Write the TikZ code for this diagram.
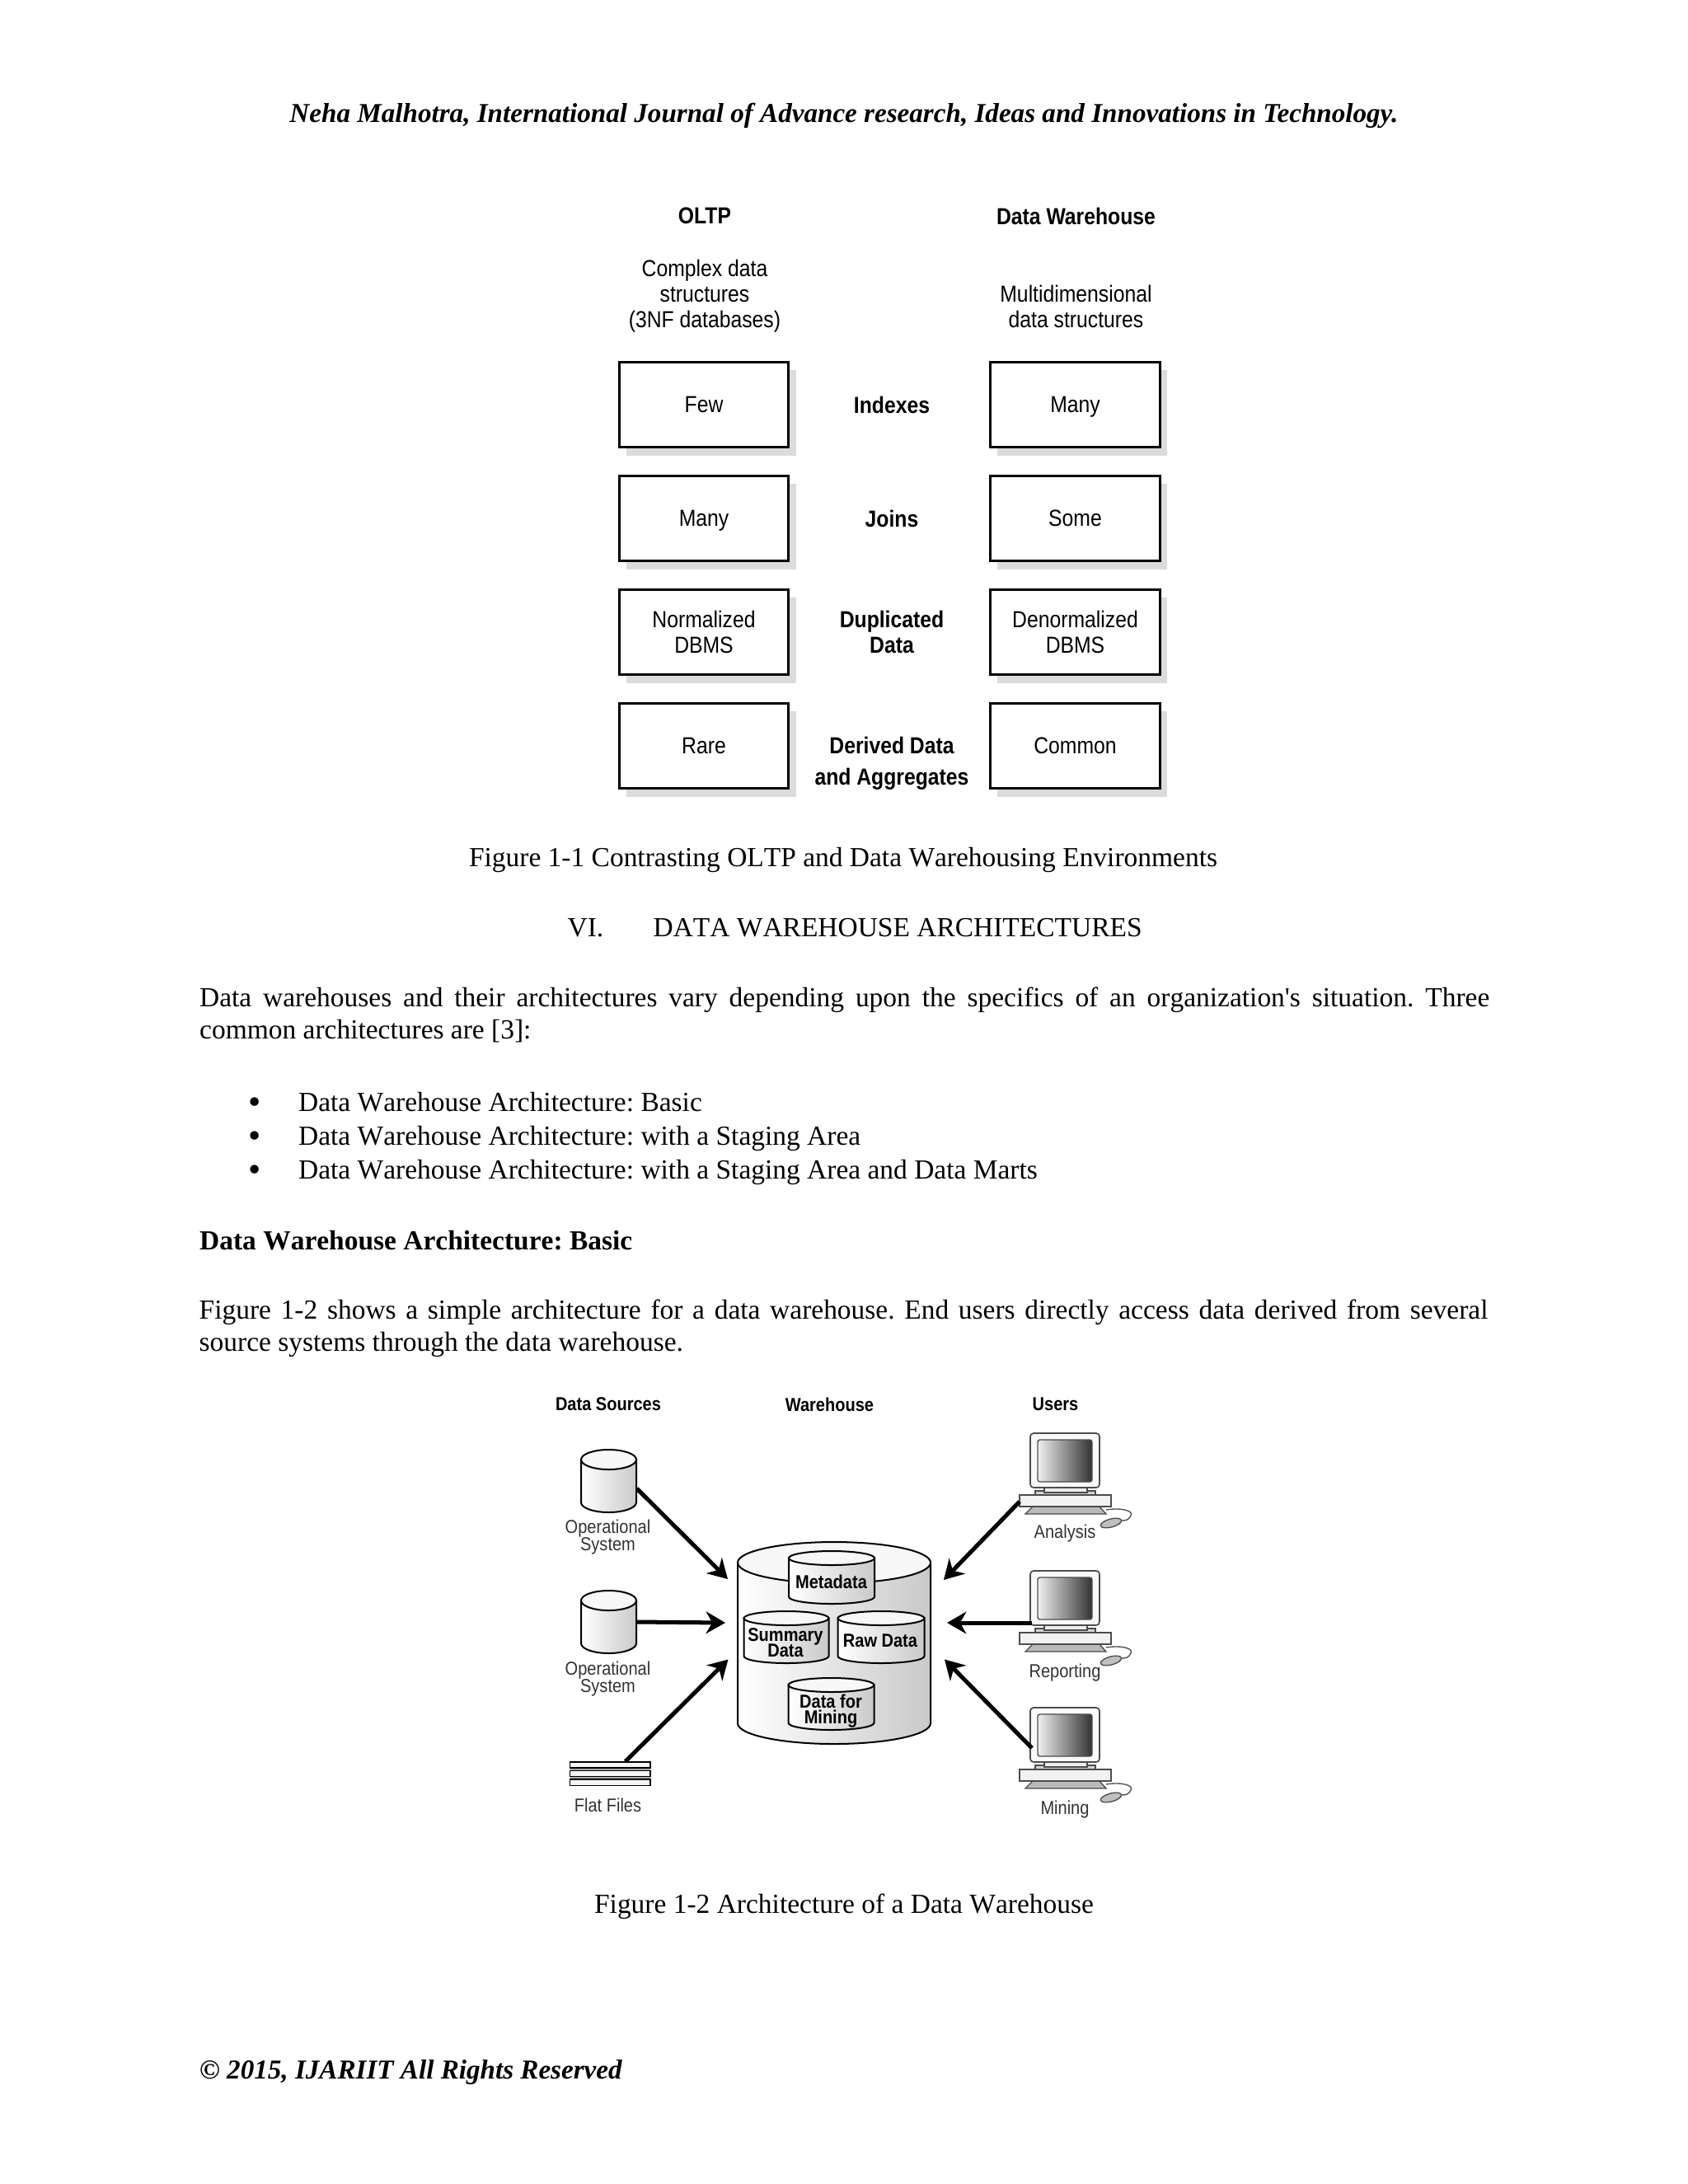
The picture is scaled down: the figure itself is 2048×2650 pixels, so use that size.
\documentclass[tikz,border=0pt]{standalone}
\usepackage{fontspec}
\newfontfamily\bodyfont[Kerning=Off]{Liberation Serif}
\newfontfamily\headfont{Liberation Serif}
\newfontfamily\figfont[FakeStretch=0.88]{Liberation Sans}
\usetikzlibrary{arrows.meta,shadows,fit}
\frenchspacing
\tikzset{
  bodytxt/.style={font=\bodyfont\fontsize{10}{11.6}\selectfont,inner sep=0pt,anchor=base west},
  midtxt/.style={bodytxt,anchor=base},
  dottxt/.style={midtxt,font=\bodyfont\fontsize{13}{13}\selectfont},
  headtxt/.style={bodytxt,font=\headfont\fontsize{9.9}{11.6}\selectfont\bfseries\itshape},
  figtop/.style={font=\figfont\fontsize{8.4}{9.3}\selectfont,align=center,inner sep=0pt},
  figtopb/.style={figtop,font=\figfont\bfseries\fontsize{8.4}{9.3}\selectfont},
  figlow/.style={font=\figfont\fontsize{6.8}{5.9}\selectfont,align=center,inner sep=0pt,text=black!80},
  figlowb/.style={figlow,font=\figfont\bfseries\fontsize{6.8}{6.1}\selectfont,text=black},
  valbox/.style={draw,line width=0.9pt,fill=white,minimum width=61.5pt,minimum height=31pt,inner sep=0pt,
    drop shadow={shadow xshift=2.6pt,shadow yshift=-3pt,fill=gray!28,opacity=1}},
  cylfill/.style={left color=white,right color=gray!42},
  cylline/.style={line width=0.6pt},
  feed/.style={line width=1.5pt,-{Stealth[length=7pt,width=8pt]}},
  pics/workstation/.style={code={
    \coordinate (-left) at (-42,33);
    \coordinate (-mid) at (-40,63);
    \coordinate (-low) at (-40,49);
    \coordinate (-base) at (-55,83);
    \draw[draw=black!70,line width=0.4pt,fill=gray!35] (-36,70) rectangle (37,75);
    \draw[draw=black!70,line width=0.4pt,fill=gray!15] (-25,66) rectangle (27,72);
    \draw[draw=black!70,line width=0.5pt,fill=gray!5,rounded corners=1.2pt] (-42,0) rectangle (42,66);
    \shade[draw=black!70,line width=0.4pt,left color=gray!12,middle color=gray!45,right color=black!80,rounded corners=0.8pt] (-33,8) rectangle (33,59);
    \draw[draw=black!70,line width=0.4pt,fill=gray!55] (-48,98) -- (-37,87) -- (40,87) -- (50,98) -- cycle;
    \draw[draw=black!70,line width=0.5pt,fill=gray!10] (-55,75) rectangle (56,89);
    \draw[draw=black!70,line width=0.4pt] (50,93) .. controls (68,90) and (84,94) .. (80,100) .. controls (78,105) and (74,106) .. (69,106);
    \draw[draw=black!70,line width=0.4pt,fill=gray!50,rotate around={15:(56,109)}] (56,109) ellipse [x radius=13,y radius=5];
  }},
}
\newcommand{\dbcyl}[6]{%
  \shade[cylfill,draw,cylline] (#2-#5,#3+#6) -- (#2-#5,#4-#6) arc [start angle=180,end angle=0,x radius=#5,y radius=#6] -- (#2+#5,#3+#6) -- cycle;
  \draw[cylline,fill=gray!6] (#2,#3+#6) ellipse [x radius=#5,y radius=#6];
  \coordinate (#1tl) at (#2-#5,#3);
  \coordinate (#1br) at (#2+#5,#4);
  \node[fit=(#1tl)(#1br),inner sep=0pt] (#1) {};
}
\begin{document}
\begin{tikzpicture}[x=0.29883pt, y=-0.29883pt]
    \useasboundingbox (0,0) rectangle (2048,2650);

    %
    \node[headtxt,anchor=base] (runhead) at (1024,148.5) {Neha Malhotra, International Journal of Advance research, Ideas and Innovations in Technology.};

    %
    \node[figtopb] (oltphead) at (855,262) {OLTP};
    \node[figtopb] (dwhead) at (1305.5,262) {Data Warehouse};
    \node[figtop] (oltpnote) at (855,359) {Complex data\\structures\\(3NF databases)};
    \node[figtop] (dwnote) at (1305.5,372) {Multidimensional\\data structures};

    %
    \node[valbox,figtop] (few) at (854,491) {Few};
    \node[valbox,figtop,text depth=0pt] (manyb) at (1304.5,491) {Many};
    \node[valbox,figtop,text depth=0pt] (manya) at (854,629) {Many};
    \node[valbox,figtop] (some) at (1304.5,629) {Some};
    \node[valbox,figtop] (norm) at (854,767) {Normalized\\DBMS};
    \node[valbox,figtop] (denorm) at (1304.5,767) {Denormalized\\DBMS};
    \node[valbox,figtop] (rare) at (854,905) {Rare};
    \node[valbox,figtop] (common) at (1304.5,905) {Common};

    %
    \node[figtopb] (indexes) at (1082,491) {Indexes};
    \node[figtopb] (joins) at (1082,629) {Joins};
    \node[figtopb] (dupl) at (1082,767) {Duplicated\\Data};
    \node[figtopb] (deriv) at (1082,926) {Derived Data\\[2pt]and Aggregates};

    %
    \node[midtxt] (capone) at (1023,1051.5) {Figure 1-1 Contrasting OLTP and Data Warehousing Environments};
    \node[bodytxt] (secnum) at (688,1136.5) {VI.};
    \node[bodytxt] (sectitle) at (792,1136.5) {DATA WAREHOUSE ARCHITECTURES};

    %
    \node[bodytxt,anchor=north west,text width=467.7pt,align=justify] (paraone) at (241.5,1197.5) {Data warehouses and their architectures vary depending upon the specifics of an organization's situation. Three\linebreak common architectures are [3]:};

    %
    \node[dottxt] (dota) at (309,1351) {\textbullet};
    \node[dottxt] (dotb) at (309,1392) {\textbullet};
    \node[dottxt] (dotc) at (309,1433) {\textbullet};
    \node[bodytxt] (itema) at (361.5,1348.5) {Data Warehouse Architecture: Basic};
    \node[bodytxt] (itemb) at (361.5,1389.5) {Data Warehouse Architecture: with a Staging Area};
    \node[bodytxt] (itemc) at (361.5,1430.5) {Data Warehouse Architecture: with a Staging Area and Data Marts};

    %
    \node[bodytxt,font=\bodyfont\fontsize{10}{11.6}\selectfont\bfseries] (subhead) at (241.5,1516.5) {Data Warehouse Architecture: Basic};
    \node[bodytxt,anchor=north west,text width=467.3pt,align=justify] (paratwo) at (241,1576.5) {Figure 1-2 shows a simple architecture for a data warehouse. End users directly access data derived from several\linebreak source systems through the data warehouse.};

    %
    \node[figlowb] (srchead) at (738,1704) {Data Sources};
    \node[figlowb] (whhead) at (1006.5,1704) {Warehouse};
    \node[figlowb] (usrhead) at (1280.5,1704) {Users};

    %
    \dbcyl{srca}{738.5}{1759}{1835}{33.5}{12}
    \dbcyl{srcb}{738.5}{1930}{2006}{33.5}{12}
    \node[figlow] (srcalbl) at (737.5,1865) {Operational\\[-0.8pt]System};
    \node[figlow] (srcblbl) at (737.5,2037) {Operational\\[-0.8pt]System};

    %
    \node[fit={(691.5,2138)(789,2166.5)},inner sep=0pt,fill=gray!70] (flat) {};
    \draw[line width=0.5pt,fill=gray!8] (691.5,2138) rectangle (789,2145);
    \draw[line width=0.5pt,fill=gray!8] (691.5,2148.5) rectangle (789,2155.5);
    \draw[line width=0.5pt,fill=gray!8] (691.5,2159) rectangle (789,2166.5);
    \node[figlow] (flatlbl) at (737.5,2190) {Flat Files};

    %
    \dbcyl{hub}{1012}{1871}{2116}{117}{25}
    \dbcyl{meta}{1009}{1882}{1946}{52}{8.5}
    \dbcyl{summ}{954}{1955}{2018}{51.5}{8.5}
    \dbcyl{raw}{1069}{1955}{2018}{52.5}{8.5}
    \dbcyl{mine}{1008.5}{2036}{2099}{52}{8.5}
    \node[figlowb] (metalbl) at (1008.5,1919) {Metadata};
    \node[figlowb] (summlbl) at (953,1993) {Summary\\[-0.6pt]Data};
    \node[figlowb] (rawlbl) at (1068,1991) {Raw Data};
    \node[figlowb] (minelbl) at (1008,2076) {Data for\\[-0.3pt]Mining};

    %
    \pic (usra) at (1292,1739) {workstation};
    \pic (usrb) at (1292,1906) {workstation};
    \pic (usrc) at (1292,2072) {workstation};
    \node[figlow] (usralbl) at (1292,1861) {Analysis};
    \node[figlow] (usrblbl) at (1292,2030) {Reporting};
    \node[figlow] (usrclbl) at (1292,2196) {Mining};

    %
    \coordinate (insrca) at (883,1916);
    \coordinate (insrcb) at (880,1969);
    \coordinate (insrcc) at (883.5,2013.5);
    \coordinate (inusra) at (1145,1917);
    \coordinate (inusrb) at (1149,1969);
    \coordinate (inusrc) at (1146,2013.5);

    %
    \draw[feed] (srca.-15) -- (insrca);
    \draw[feed] (srcb.east) -- (insrcb);
    \draw[feed] (flat.39) -- (insrcc);
    \draw[feed] (usra-base) -- (inusra);
    \draw[feed] (usrb-mid) -- (inusrb);
    \draw[feed] (usrc-low) -- (inusrc);

    %
    \node[midtxt] (captwo) at (1024,2321.5) {Figure 1-2 Architecture of a Data Warehouse};
    \node[headtxt] (foot) at (241.5,2522.5) {\textcopyright{} 2015, IJARIIT All Rights Reserved};
\end{tikzpicture}
\end{document}
